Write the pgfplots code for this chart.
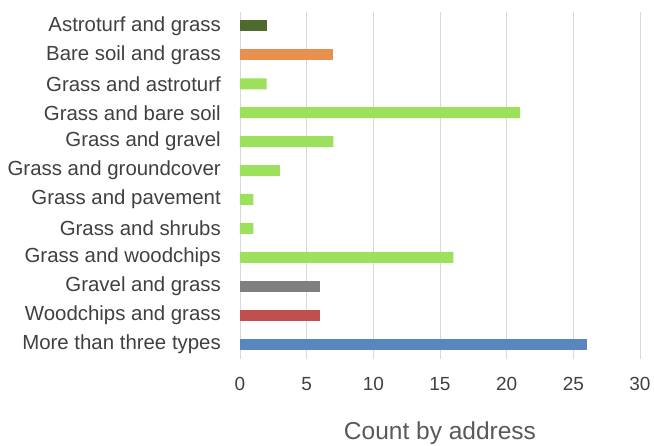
\documentclass[border=0pt]{standalone}
\usepackage{pgfplots}
\pgfplotsset{compat=1.18}
\usepackage{fontspec}
\setmainfont{Liberation Sans}

\definecolor{barDarkGreen}{HTML}{4E6A2C}
\definecolor{barOrange}{HTML}{E8904E}
\definecolor{barLightGreen}{HTML}{9CE05C}
\definecolor{barGray}{HTML}{7F7F7F}
\definecolor{barRed}{HTML}{C0504D}
\definecolor{barBlue}{HTML}{5A86C0}
\definecolor{gridGray}{HTML}{D9D9D9}
\definecolor{textGray}{HTML}{404040}
\definecolor{labelGray}{HTML}{595959}

\begin{document}
\begin{tikzpicture}
\useasboundingbox (-240bp,-87.5bp) rectangle (414bp,358.5bp);
\begin{axis}[
  scale only axis,
  width=400bp, height=347bp,
  xmin=0, xmax=30,
  ymin=-0.5, ymax=11.5,
  y dir=reverse,
  axis line style={draw=none},
  major tick length=0pt,
  xtick={0,5,...,30},
  ytick={0,...,11},
  yticklabels={Astroturf and grass, Bare soil and grass, Grass and astroturf,
    Grass and bare soil, Grass and gravel, Grass and groundcover,
    Grass and pavement, Grass and shrubs, Grass and woodchips,
    Gravel and grass, Woodchips and grass, More than three types},
  xmajorgrids,
  grid style={gridGray, line width=0.8bp},
  /pgf/number format/assume math mode=true,
  xticklabel style={font=\fontsize{19bp}{22bp}\selectfont, text=textGray,
    anchor=base, inner sep=0pt, yshift=-31.5bp},
  yticklabel style={font=\fontsize{20.4bp}{24bp}\selectfont, text=textGray,
    anchor=east, inner sep=0pt, xshift=-19bp},
  xlabel={Count by address},
  xlabel style={font=\fontsize{24.5bp}{28bp}\selectfont, text=labelGray,
    at={(axis description cs:0.5,0)}, anchor=base, inner sep=0pt,
    yshift=-80.5bp},
  xbar, bar width=11bp, bar shift=0pt,
  clip=false,
]
\addplot[fill=barDarkGreen, draw=none] coordinates {(2,0)};
\addplot[fill=barOrange, draw=none] coordinates {(7,1)};
\addplot[fill=barLightGreen, draw=none] coordinates {
  (2,2) (21,3) (7,4) (3,5) (1,6) (1,7) (16,8)};
\addplot[fill=barGray, draw=none] coordinates {(6,9)};
\addplot[fill=barRed, draw=none] coordinates {(6,10)};
\addplot[fill=barBlue, draw=none] coordinates {(26,11)};
\end{axis}
\end{tikzpicture}
\end{document}
